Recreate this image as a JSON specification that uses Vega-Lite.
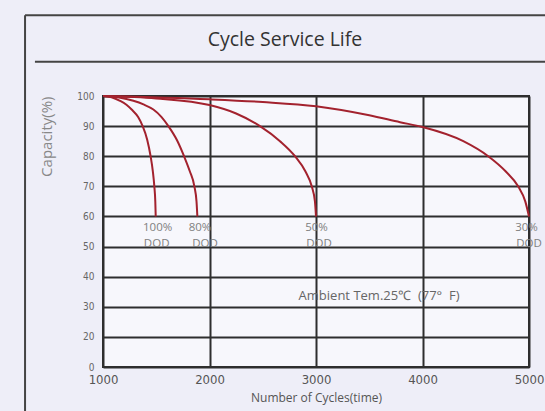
{
  "$schema": "https://vega.github.io/schema/vega-lite/v6.json",
  "width": 426,
  "height": 271,
  "autosize": {"type": "none"},
  "padding": {"left": 103, "top": 96, "right": 16, "bottom": 44},
  "background": "#eeeef8",
  "config": {
    "view": {"stroke": "#2e2e2e", "strokeWidth": 2, "fill": "#f7f7fc"}
  },
  "datasets": {
    "curves": [
      {"cycles": 1000, "capacity": 100, "dod": "100%"},
      {"cycles": 1080, "capacity": 99.6, "dod": "100%"},
      {"cycles": 1160, "capacity": 98.4, "dod": "100%"},
      {"cycles": 1220, "capacity": 97.1, "dod": "100%"},
      {"cycles": 1269, "capacity": 95.5, "dod": "100%"},
      {"cycles": 1330, "capacity": 93, "dod": "100%"},
      {"cycles": 1372, "capacity": 90, "dod": "100%"},
      {"cycles": 1415, "capacity": 85.5, "dod": "100%"},
      {"cycles": 1447, "capacity": 80, "dod": "100%"},
      {"cycles": 1468, "capacity": 75, "dod": "100%"},
      {"cycles": 1482, "capacity": 70, "dod": "100%"},
      {"cycles": 1491, "capacity": 65, "dod": "100%"},
      {"cycles": 1495, "capacity": 60, "dod": "100%"},
      {"cycles": 1000, "capacity": 100, "dod": "80%"},
      {"cycles": 1150, "capacity": 99.5, "dod": "80%"},
      {"cycles": 1285, "capacity": 98.4, "dod": "80%"},
      {"cycles": 1380, "capacity": 97.2, "dod": "80%"},
      {"cycles": 1473, "capacity": 95.5, "dod": "80%"},
      {"cycles": 1550, "capacity": 93, "dod": "80%"},
      {"cycles": 1614, "capacity": 90, "dod": "80%"},
      {"cycles": 1695, "capacity": 85.3, "dod": "80%"},
      {"cycles": 1761, "capacity": 80, "dod": "80%"},
      {"cycles": 1815, "capacity": 75, "dod": "80%"},
      {"cycles": 1858, "capacity": 70, "dod": "80%"},
      {"cycles": 1878, "capacity": 65, "dod": "80%"},
      {"cycles": 1886, "capacity": 60, "dod": "80%"},
      {"cycles": 1000, "capacity": 100, "dod": "50%"},
      {"cycles": 1500, "capacity": 99.2, "dod": "50%"},
      {"cycles": 2000, "capacity": 97, "dod": "50%"},
      {"cycles": 2250, "capacity": 94.2, "dod": "50%"},
      {"cycles": 2474, "capacity": 90, "dod": "50%"},
      {"cycles": 2662, "capacity": 85, "dod": "50%"},
      {"cycles": 2803, "capacity": 80, "dod": "50%"},
      {"cycles": 2900, "capacity": 75, "dod": "50%"},
      {"cycles": 2960, "capacity": 70, "dod": "50%"},
      {"cycles": 2990, "capacity": 65, "dod": "50%"},
      {"cycles": 3000, "capacity": 60, "dod": "50%"},
      {"cycles": 1000, "capacity": 100, "dod": "30%"},
      {"cycles": 2000, "capacity": 98.9, "dod": "30%"},
      {"cycles": 2500, "capacity": 98, "dod": "30%"},
      {"cycles": 3000, "capacity": 96.6, "dod": "30%"},
      {"cycles": 3500, "capacity": 93.6, "dod": "30%"},
      {"cycles": 3789, "capacity": 91.3, "dod": "30%"},
      {"cycles": 4000, "capacity": 89.7, "dod": "30%"},
      {"cycles": 4383, "capacity": 85, "dod": "30%"},
      {"cycles": 4617, "capacity": 80, "dod": "30%"},
      {"cycles": 4780, "capacity": 75, "dod": "30%"},
      {"cycles": 4898, "capacity": 70, "dod": "30%"},
      {"cycles": 4965, "capacity": 65, "dod": "30%"},
      {"cycles": 5000, "capacity": 60, "dod": "30%"}
    ],
    "labels": [
      {"cycles": 1513, "capacity": 56.2, "label": "100%"},
      {"cycles": 1504, "capacity": 50.8, "label": "DOD"},
      {"cycles": 1911, "capacity": 56.2, "label": "80%"},
      {"cycles": 1958, "capacity": 50.8, "label": "DOD"},
      {"cycles": 3005, "capacity": 56.2, "label": "50%"},
      {"cycles": 3028, "capacity": 50.8, "label": "DOD"},
      {"cycles": 4977, "capacity": 56.2, "label": "30%"},
      {"cycles": 5000, "capacity": 50.8, "label": "DOD"}
    ],
    "note": [
      {"cycles": 3592, "capacity": 33.6, "label": "Ambient Tem.25℃\u00a0\u00a0(77°\u00a0\u00a0F)"}
    ],
    "heading": [
      {"cycles": 2709, "capacity": 118.6, "label": "Cycle Service Life"}
    ]
  },
  "resolve": {"axis": {"x": "independent", "y": "independent"}},
  "layer": [
    {
      "encoding": {
        "x": {
          "field": "cycles", "type": "quantitative",
          "scale": {"domain": [1000, 5000], "nice": false, "zero": false},
          "axis": {
            "values": [1000, 2000, 3000, 4000, 5000],
            "format": "d",
            "title": "Number of Cycles(time)",
            "titleFont": "Open Sans", "titleFontSize": 12, "titleFontWeight": "normal", "titleColor": "#555555",
            "titlePadding": 6,
            "labelFont": "DejaVu Sans Condensed", "labelFontSize": 13, "labelColor": "#555555",
            "labelPadding": 6, "labelFlush": false, "labelOverlap": false,
            "ticks": false, "domain": false,
            "grid": true, "gridColor": "#2e2e2e", "gridWidth": 2, "gridOpacity": 1
          }
        },
        "y": {
          "field": "capacity", "type": "quantitative",
          "scale": {"domain": [10, 100], "nice": false, "zero": false},
          "axis": {
            "values": [10, 20, 30, 40, 50, 60, 70, 80, 90, 100],
            "tickCount": 10,
            "labelExpr": "datum.value == 10 ? '0' : datum.label",
            "title": "Capacity(%)",
            "titleFont": "Open Sans", "titleFontSize": 15, "titleFontWeight": "normal", "titleColor": "#888888",
            "titleAnchor": "end", "titlePadding": 22,
            "labelFont": "DejaVu Sans Condensed", "labelFontSize": 10, "labelColor": "#666666",
            "labelPadding": 9, "labelOverlap": false,
            "ticks": false, "domain": false,
            "grid": true, "gridColor": "#2e2e2e", "gridWidth": 2, "gridOpacity": 1
          }
        }
      },
      "layer": [
        {
          "data": {"name": "curves"},
          "mark": {"type": "line", "color": "#a3222e", "strokeWidth": 2, "interpolate": "monotone", "clip": false},
          "encoding": {
            "detail": {"field": "dod", "type": "nominal"}
          }
        },
        {
          "data": {"name": "labels"},
          "mark": {"type": "text", "font": "Open Sans", "fontSize": 11.5, "color": "#808080", "clip": false},
          "encoding": {
            "text": {"field": "label"}
          }
        },
        {
          "data": {"name": "note"},
          "mark": {"type": "text", "font": "Open Sans", "fontSize": 13, "color": "#666666", "clip": false},
          "encoding": {
            "text": {"field": "label"}
          }
        },
        {
          "data": {"name": "heading"},
          "mark": {"type": "text", "font": "Open Sans", "fontSize": 19.5, "color": "#333333", "clip": false},
          "encoding": {
            "text": {"field": "label"}
          }
        }
      ]
    },
    {
      "data": {"values": [{}]},
      "mark": {"type": "rule", "color": "#444444", "strokeWidth": 2, "clip": false},
      "encoding": {
        "x": {"datum": 268, "axis": null},
        "y": {"datum": 126.8, "axis": null},
        "y2": {"datum": -10}
      }
    },
    {
      "data": {"values": [{}]},
      "mark": {"type": "rule", "color": "#444444", "strokeWidth": 2, "clip": false},
      "encoding": {
        "x": {"datum": 268, "axis": null},
        "x2": {"datum": 5300},
        "y": {"datum": 126.8, "axis": null}
      }
    },
    {
      "data": {"values": [{}]},
      "mark": {"type": "rule", "color": "#444444", "strokeWidth": 2, "clip": false},
      "encoding": {
        "x": {"datum": 361, "axis": null},
        "x2": {"datum": 5300},
        "y": {"datum": 111.4, "axis": null}
      }
    }
  ]
}
